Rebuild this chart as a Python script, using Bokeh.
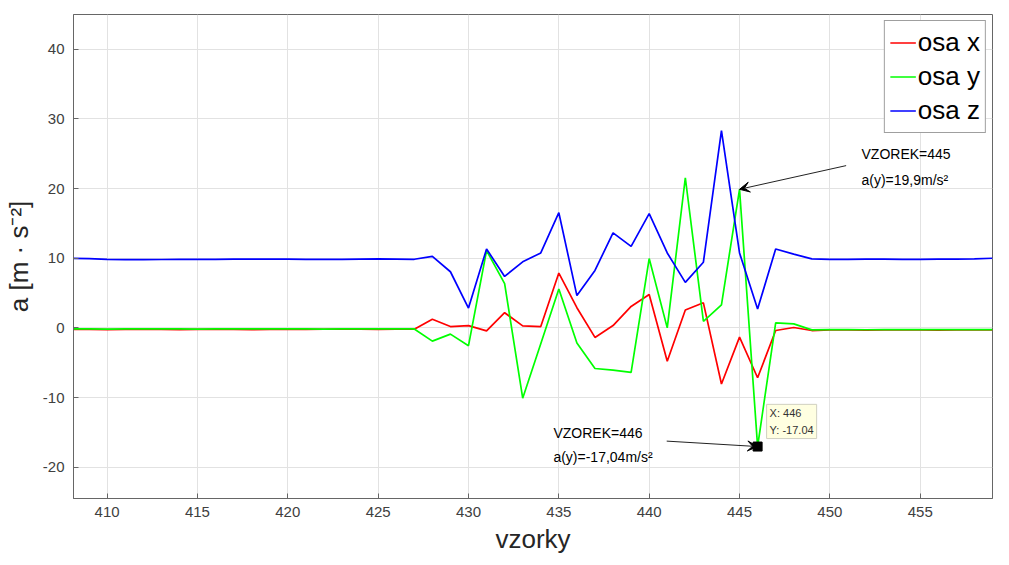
from bokeh.plotting import figure
from bokeh.models import (Legend, LegendItem, Label, Arrow, VeeHead,
                          Range1d, FixedTicker)
from bokeh.embed import file_html
from bokeh.resources import INLINE

# ---------------- data ----------------
samples = list(range(407, 460))

osa_x = [-0.2, -0.2, -0.22, -0.25, -0.23, -0.2, -0.22, -0.25, -0.22, -0.2, -0.22,
         -0.25, -0.22, -0.2, -0.22, -0.2, -0.18, -0.2, -0.22, -0.2, -0.2,
         1.23, 0.19, 0.33, -0.43, 2.18, 0.28, 0.19, 7.87, 2.9, -1.37, 0.33, 3.08,
         4.79, -4.79, 2.56, 3.6, -8.06, -1.33, -7.16, -0.38, 0.05, -0.38,
         -0.3, -0.3, -0.32, -0.3, -0.28, -0.3, -0.32, -0.3, -0.3, -0.3]

osa_y = [-0.15, -0.15, -0.15, -0.17, -0.15, -0.15, -0.13, -0.15, -0.17, -0.15, -0.15,
         -0.15, -0.13, -0.15, -0.15, -0.17, -0.15, -0.15, -0.13, -0.15, -0.15,
         -1.9, -0.9, -2.56, 11.1, 6.35, -10.1, -2.27, 5.59, -2.18, -5.83, -6.07, -6.4,
         9.95, 0.0, 21.56, 0.95, 3.32, 19.9, -17.04, 0.71, 0.57, -0.28,
         -0.25, -0.25, -0.27, -0.25, -0.25, -0.23, -0.25, -0.25, -0.25, -0.25]

osa_z = [10.0, 10.0, 9.95, 9.85, 9.8, 9.8, 9.82, 9.85, 9.85, 9.85, 9.87,
         9.88, 9.88, 9.87, 9.85, 9.85, 9.85, 9.88, 9.9, 9.88, 9.85,
         10.28, 8.06, 2.84, 11.33, 7.39, 9.48, 10.76, 16.54, 4.64, 8.25, 13.65, 11.7,
         16.4, 10.76, 6.54, 9.43, 28.34, 10.76, 2.7, 11.33, 10.6, 9.9,
         9.85, 9.85, 9.87, 9.88, 9.85, 9.85, 9.87, 9.88, 9.9, 10.0]

series_names = ["osa x", "osa y", "osa z"]
series_colors = ["#ff0000", "#00ff00", "#0000ff"]

x_ticks = [410, 415, 420, 425, 430, 435, 440, 445, 450, 455]
y_ticks = [-20, -10, 0, 10, 20, 30, 40]
x_limits = (408.14, 459.0)
y_limits = (-24.5, 45.0)

# annotations (data coordinates)
note1_lines = ["VZOREK=445", "a(y)=19,9m/s\u00b2"]
note1_x = 451.75
note1_y = [25.0, 21.3]
arrow1 = dict(x_start=450.9, y_start=23.3, x_end=445.0, y_end=19.9)

note2_lines = ["VZOREK=446", "a(y)=-17,04m/s\u00b2"]
note2_x = 434.7
note2_y = [-15.1, -18.6]
arrow2 = dict(x_start=440.97, y_start=-16.26, x_end=446.0, y_end=-17.04)

tip_x = [446]
tip_y = [-17.04]
tip_text = "X: 446\nY: -17.04"

FONT = "Liberation Sans"
AX_COLOR = "#666666"
TXT_COLOR = "#404040"

p = figure(width=993, height=556, x_range=Range1d(*x_limits), y_range=Range1d(*y_limits),
           output_backend="svg", toolbar_location=None,
           min_border_left=69, min_border_right=1, min_border_top=14, min_border_bottom=54)

p.background_fill_color = "white"
p.border_fill_color = "white"
p.outline_line_color = AX_COLOR
p.outline_line_width = 1

for ax, ticks in ((p.xaxis[0], x_ticks), (p.yaxis[0], y_ticks)):
    ax.ticker = FixedTicker(ticks=ticks)
    ax.major_label_overrides = {t: str(t) for t in ticks}
    ax.major_tick_in = 5
    ax.major_tick_out = 0
    ax.minor_tick_line_color = None
    ax.axis_line_color = AX_COLOR
    ax.major_tick_line_color = AX_COLOR
    ax.major_label_text_font = FONT
    ax.major_label_text_font_size = "15px"
    ax.major_label_text_color = TXT_COLOR
    ax.axis_label_text_font = FONT
    ax.axis_label_text_font_style = "normal"
    ax.axis_label_text_font_size = "26px"
    ax.axis_label_text_color = "#262626"

p.xaxis.axis_label = "vzorky"
p.xaxis.major_label_standoff = 8
p.xaxis.axis_label_standoff = 4
p.yaxis.axis_label = "a [m \u00b7 s\u207b\u00b2]"
p.yaxis.major_label_standoff = 9
p.yaxis.axis_label_standoff = 6

p.xgrid.grid_line_color = "#e2e2e2"
p.ygrid.grid_line_color = "#e2e2e2"

renderers = []
for vals, c in zip((osa_x, osa_y, osa_z), series_colors):
    renderers.append(p.line(samples, vals, line_color=c, line_width=1.7))

legend = Legend(items=[LegendItem(label=n, renderers=[r]) for n, r in zip(series_names, renderers)],
                location="top_right", margin=6, padding=5, spacing=1,
                label_text_font=FONT, label_text_font_size="26px", label_text_color="black",
                label_height=33, glyph_height=33, glyph_width=26, label_standoff=2,
                border_line_color="#404040", border_line_width=1.5,
                background_fill_color="white", background_fill_alpha=1)
p.add_layout(legend)

# arrows
for a in (arrow1, arrow2):
    p.add_layout(Arrow(end=VeeHead(size=10, fill_color="black", line_color="black", line_width=1),
                       line_color="#222222", line_width=1, **a))

# text notes
for lines, nx, nys in ((note1_lines, note1_x, note1_y), (note2_lines, note2_x, note2_y)):
    for t, ny in zip(lines, nys):
        p.add_layout(Label(x=nx, y=ny, text=t, text_font=FONT, text_font_size="14px",
                           text_color="black", text_baseline="middle", text_align="left"))

# data tip marker and box
p.scatter(tip_x, tip_y, marker="square", size=9, color="black")
p.add_layout(Label(x=tip_x[0], y=tip_y[0], text=tip_text, x_offset=9, y_offset=8,
                   text_font=FONT, text_font_size="11px", text_color="#333333",
                   text_line_height=1.35, text_align="left", text_baseline="bottom",
                   background_fill_color="#ffffe1", background_fill_alpha=1,
                   border_line_color="#d0d0c0", border_line_width=1, padding=3))

open("out.html", "w").write(file_html(p, INLINE))
